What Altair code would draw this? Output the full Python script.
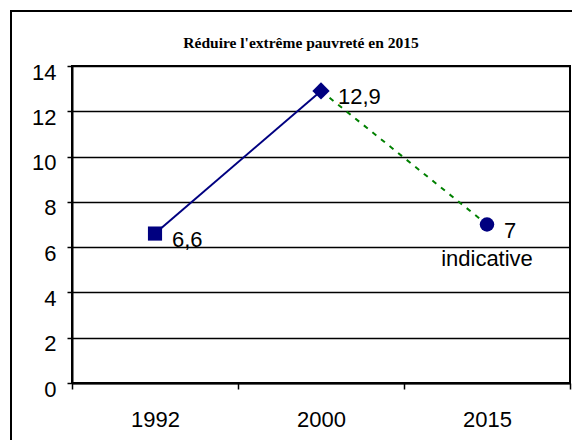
import altair as alt
import pandas as pd

years = ["1992", "2000", "2015"]
values = [6.6, 12.9, 7.0]
value_labels = ["6,6", "12,9", "7"]
notes = ["", "", "indicative"]
shapes = ["square", "diamond", "circle"]
marker_sizes = [200, 300, 210]
y_ticks = [0, 2, 4, 6, 8, 10, 12, 14]
title_text = "Réduire l'extrême pauvreté en 2015"

df = pd.DataFrame({"year": years, "value": values, "label": value_labels, "note": notes})

x_enc = alt.X(
    "year:N",
    sort=years,
    scale=alt.Scale(domain=years, paddingInner=0, paddingOuter=0),
    axis=alt.Axis(
        title=None, labelAngle=0, tickBand="extent", tickSize=6, tickColor="black",
        tickWidth=1.5, domainColor="black", domainWidth=2, labelFont="Liberation Sans",
        labelFontSize=22, labelColor="black", labelPadding=20, grid=False,
    ),
)
y_enc = alt.Y(
    "value:Q",
    scale=alt.Scale(domain=[0, 14], nice=False, zero=True),
    axis=alt.Axis(
        title=None, values=y_ticks, tickSize=5, tickColor="black", tickWidth=1.5,
        domainColor="black", domainWidth=2, labelFont="Liberation Sans",
        labelFontSize=22, labelColor="black", labelPadding=11, labelOffset=6,
        grid=True, gridColor="black", gridWidth=1.5, gridOpacity=1,
    ),
)

base = alt.Chart(df)

frame = alt.Chart(pd.DataFrame({"f": [0]})).mark_rect(
    fill="transparent", stroke="black", strokeWidth=2
).encode(x=alt.value(-61), x2=alt.value(700), y=alt.value(-55), y2=alt.value(700))

solid = base.transform_filter(
    alt.FieldOneOfPredicate(field="year", oneOf=years[:2])
).mark_line(color="#000080", strokeWidth=2).encode(x=x_enc, y=y_enc)

dotted = base.transform_filter(
    alt.FieldOneOfPredicate(field="year", oneOf=years[1:])
).mark_line(color="#008000", strokeWidth=2, strokeDash=[5, 6]).encode(x=x_enc, y=y_enc)

point_layers = [
    base.transform_filter(alt.FieldEqualPredicate(field="year", equal=yr))
    .mark_point(filled=True, opacity=1, color="#000080", shape=shp, size=sz)
    .encode(x=x_enc, y=y_enc)
    for yr, shp, sz in zip(years, shapes, marker_sizes)
]

labels = base.mark_text(
    align="left", baseline="middle", dx=17, dy=6, font="Liberation Sans", fontSize=22, color="black"
).encode(x=x_enc, y=y_enc, text="label:N")

note_text = base.mark_text(
    align="center", baseline="middle", dy=34, font="Liberation Sans", fontSize=22, color="black"
).encode(x=x_enc, y=y_enc, text="note:N")

chart = alt.layer(frame, solid, dotted, *point_layers, labels, note_text).properties(
    width=498,
    height=317,
    autosize=alt.AutoSizeParams(type="none"),
    padding={"left": 64, "top": 58, "right": 2, "bottom": 57},
    title=alt.TitleParams(
        title_text, font="Liberation Serif", fontSize=15.5, fontWeight="bold",
        color="black", anchor="middle", frame="group", dx=-20, offset=-53, baseline="alphabetic",
    ),
).configure_view(stroke="black", strokeWidth=2)

chart.save("out.html", embed_options={"renderer": "svg", "actions": False})
